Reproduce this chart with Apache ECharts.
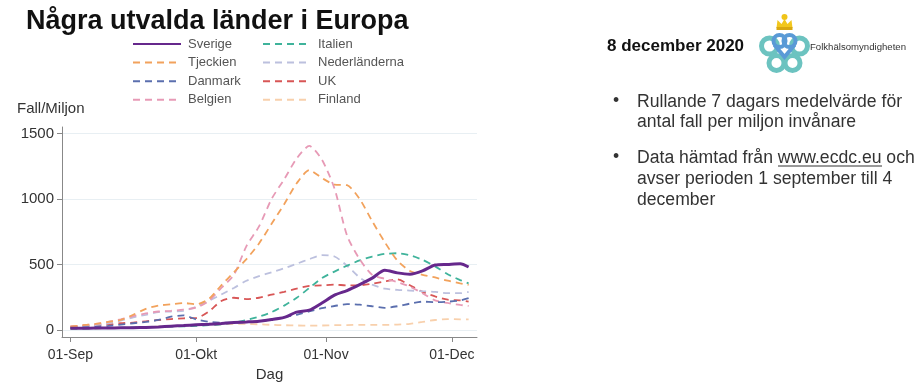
<!DOCTYPE html>
<html>
<head>
<meta charset="utf-8">
<script src="https://cdn.jsdelivr.net/npm/echarts@6/dist/echarts.min.js"></script>
<style>
html,body{margin:0;padding:0;background:#fff;}
#chart{width:921px;height:390px;}
</style>
</head>
<body>
<div id="chart"></div>
<script>
// Day index counted from 01-Sep-2020 (0) to 05-Dec-2020 (95)
const days = [0,3,6,9,12,15,18,21,24,27,30,33,36,39,42,45,48,51,54,57,60,63,66,69,72,75,78,81,84,87,90,93,95];
const xTickDays = [0,30,61,91];
const xTickLabels = ['01-Sep','01-Okt','01-Nov','01-Dec'];
const yTicks = [0,500,1000,1500];

const sverige      = [12,12,13,14,15,16,18,22,28,33,38,42,48,55,60,66,78,95,135,150,205,265,300,345,395,455,435,425,450,495,500,505,480];
const tjeckien     = [25,35,45,60,75,115,160,185,195,205,195,235,340,440,540,660,810,960,1120,1220,1160,1110,1105,1000,830,670,530,450,420,400,375,355,343];
const danmark      = [15,18,22,30,40,50,60,75,100,110,80,62,55,55,58,65,80,95,115,140,165,182,196,192,180,168,180,200,215,212,215,225,242];
const belgien      = [25,35,45,60,80,105,125,140,145,155,170,220,320,420,640,790,1000,1150,1310,1405,1300,1080,720,540,420,390,365,330,280,225,205,190,183];
const italien      = [10,10,12,14,15,18,20,22,25,27,30,35,42,55,75,100,135,185,245,320,395,445,490,530,560,580,585,570,535,485,425,380,355];
const nederlanderna= [20,25,35,50,70,95,115,135,140,145,175,220,270,320,375,410,440,470,505,540,570,560,490,400,345,315,305,300,295,290,280,280,290];
const uk           = [25,30,35,40,50,55,65,75,82,88,90,140,220,245,235,245,268,290,315,335,340,345,340,340,352,370,385,340,290,255,230,225,215];
const finland      = [8,8,10,12,15,18,22,25,28,30,33,38,42,45,45,42,38,35,33,32,33,35,36,38,38,38,40,46,60,75,82,80,80];

const seriesNames = ['Sverige','Tjeckien','Danmark','Belgien','Italien','Nederländerna','UK','Finland'];
const seriesValues = [sverige,tjeckien,danmark,belgien,italien,nederlanderna,uk,finland];
const seriesColors = ['#66288c','#f2a25c','#5b6fae','#e79ab6','#3fb39b','#bcc0de','#d85656','#f8d0ac'];

const FONT = '"Liberation Sans", Arial, sans-serif';

const chart = echarts.init(document.getElementById('chart'), null, {renderer:'canvas'});

const series = seriesNames.map((name, k) => ({
  name: name,
  type: 'line',
  data: days.map((d, i) => [d, seriesValues[k][i]]),
  symbol: 'none',
  showSymbol: false,
  smooth: 0.25,
  z: k === 0 ? 10 : 2,
  lineStyle: k === 0
    ? {color: seriesColors[k], width: 3, type: 'solid'}
    : {color: seriesColors[k], width: 1.8, type: [7, 5]},
  itemStyle: {color: seriesColors[k]},
  emphasis: {disabled: true},
  animation: false
})).reverse();

const legendCommon = {
  orient: 'vertical',
  padding: 0,
  itemWidth: 48,
  itemHeight: 10,
  itemGap: 5.6,
  itemStyle: {opacity: 0},
  textStyle: {fontSize: 13, color: '#555', fontFamily: FONT, padding: [0, 0, 0, 2]},
  selectedMode: false
};

const bulletStyle = {fontSize: 17.6, fill: '#333', fontFamily: FONT};

chart.setOption({
  animation: false,
  backgroundColor: '#ffffff',
  title: {
    text: 'Några utvalda länder i Europa',
    left: 21, top: 3,
    textStyle: {fontSize: 27, fontWeight: 'bold', color: '#111', fontFamily: FONT}
  },
  legend: [
    Object.assign({data: seriesNames.slice(0,4), left: 132, top: 37.5}, legendCommon),
    Object.assign({data: seriesNames.slice(4), left: 262, top: 37.5}, legendCommon)
  ],
  grid: {left: 62, right: 444, top: 127, bottom: 53},
  xAxis: {
    type: 'value',
    min: -2, max: 97,
    name: 'Dag',
    nameLocation: 'middle',
    nameGap: 28,
    nameTextStyle: {fontSize: 15, color: '#333', fontFamily: FONT},
    axisLine: {onZero: false, lineStyle: {color: '#888', width: 1}},
    axisTick: {show: true, customValues: xTickDays, length: 5, lineStyle: {color: '#888'}},
    axisLabel: {
      customValues: xTickDays,
      formatter: v => xTickLabels[xTickDays.indexOf(v)],
      fontSize: 14, color: '#333', margin: 11, fontFamily: FONT
    },
    splitLine: {show: false}
  },
  yAxis: {
    type: 'value',
    min: -55, max: 1550,
    axisLine: {show: true, onZero: false, lineStyle: {color: '#888', width: 1}},
    axisTick: {show: true, customValues: yTicks, length: 5, lineStyle: {color: '#888'}},
    axisLabel: {customValues: yTicks, formatter: v => String(v), fontSize: 15, color: '#333', margin: 8, fontFamily: FONT},
    splitLine: {show: true, lineStyle: {color: '#e8eff3', width: 1}}
  },
  graphic: [
    {type: 'text', left: 17, top: 101, style: {text: 'Fall/Miljon', fontSize: 15, fill: '#333', fontFamily: FONT}},
    {type: 'text', left: 607, top: 38, style: {text: '8 december 2020', fontSize: 17, fontWeight: 'bold', fill: '#111', fontFamily: FONT}},
    // logo
    {type: 'group', left: 759, top: 14, children: [
      {type: 'circle', shape: {cx: 25, cy: 4, r: 3}, style: {fill: '#f0c419'}},
      {type: 'polygon', shape: {points: [[17,15],[18,7],[22,11],[25,6],[28,11],[32,7],[33,15]]}, style: {fill: '#f2c71d'}},
      {type: 'rect', shape: {x: 17, y: 14, width: 16, height: 3}, style: {fill: '#d9a811'}},
      {type: 'circle', shape: {cx: 10, cy: 33, r: 8}, style: {fill: 'none', stroke: '#6cc3c0', lineWidth: 5}},
      {type: 'circle', shape: {cx: 40, cy: 33, r: 8}, style: {fill: 'none', stroke: '#6cc3c0', lineWidth: 5}},
      {type: 'circle', shape: {cx: 17, cy: 50, r: 7.5}, style: {fill: 'none', stroke: '#6cc3c0', lineWidth: 5}},
      {type: 'circle', shape: {cx: 33, cy: 50, r: 7.5}, style: {fill: 'none', stroke: '#6cc3c0', lineWidth: 5}},
      {type: 'circle', shape: {cx: 20, cy: 28, r: 6}, style: {fill: 'none', stroke: '#5a9ad6', lineWidth: 4}},
      {type: 'circle', shape: {cx: 30, cy: 28, r: 6}, style: {fill: 'none', stroke: '#5a9ad6', lineWidth: 4}},
      {type: 'polyline', shape: {points: [[15,32],[25,44],[35,32]]}, style: {fill: 'none', stroke: '#5a9ad6', lineWidth: 4}}
    ]},
    {type: 'text', left: 810, top: 42, style: {text: 'Folkhälsomyndigheten', fontSize: 9.6, fill: '#333', fontFamily: FONT}},
    // bullets
    {type: 'text', left: 613, top: 92, style: Object.assign({text: '•'}, bulletStyle)},
    {type: 'text', left: 637, top: 92, style: Object.assign({text: 'Rullande 7 dagars medelvärde för\nantal fall per miljon invånare', lineHeight: 20}, bulletStyle)},
    {type: 'text', left: 613, top: 148, style: Object.assign({text: '•'}, bulletStyle)},
    {type: 'text', left: 637, top: 148, style: Object.assign({text: 'Data hämtad från www.ecdc.eu och\navser perioden 1 september till 4\ndecember', lineHeight: 21}, bulletStyle)},
    {type: 'line', shape: {x1: 778, y1: 166, x2: 882, y2: 166}, style: {stroke: '#333', lineWidth: 1}}
  ],
  series: series
});
</script>
</body>
</html>
